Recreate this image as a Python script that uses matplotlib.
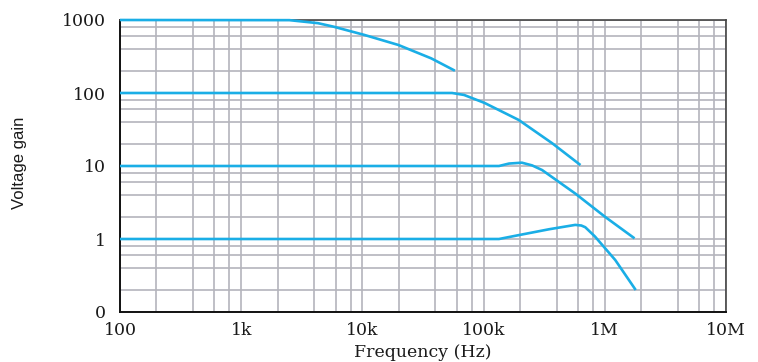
import matplotlib
matplotlib.use("Agg")
import matplotlib.pyplot as plt
from matplotlib.ticker import FixedLocator, NullFormatter

# gain curves (frequency in Hz, voltage gain)
f_1000 = [100, 2500, 4300, 5800, 10400, 19800, 37000, 58000]
g_1000 = [1000, 995, 905, 809, 624, 455, 298, 202]

f_100 = [100, 55000, 69000, 102000, 195000, 368000, 630000]
g_100 = [100, 100, 94, 73, 42.7, 20.5, 10.3]

f_10 = [100, 134000, 162000, 207000, 251000, 304000, 570000, 1010000, 1760000]
g_10 = [10, 10, 10.8, 11.1, 10.2, 8.8, 4.2, 2.0, 1.02]

f_1 = [100, 134000, 195000, 347000, 570000, 640000, 690000, 830000, 1220000, 1800000]
g_1 = [1, 1, 1.13, 1.36, 1.56, 1.53, 1.45, 1.08, 0.515, 0.2]

x_ticks = [1e2, 1e3, 1e4, 1e5, 1e6, 1e7]
x_labels = ["100", "1k", "10k", "100k", "1M", "10M"]
y_ticks = [0.1, 1, 10, 100, 1000]
y_labels = ["0", "1", "10", "100", "1000"]

line_col = "#1aaee6"
grid_col = "#b4b4bc"

fig = plt.figure(figsize=(7.58, 3.62), dpi=100)
ax = fig.add_axes([120 / 758, 1 - 312 / 362, 606 / 758, 292 / 362])

ax.set_xscale("log")
ax.set_yscale("log")
ax.set_xlim(1e2, 1e7)
ax.set_ylim(0.1, 1000)

minor_x = [m * 10 ** d for d in range(2, 7) for m in (2, 4, 6, 8)]
minor_y = [m * 10 ** d for d in range(-1, 3) for m in (2, 4, 6, 8)]
ax.xaxis.set_major_locator(FixedLocator(x_ticks))
ax.xaxis.set_minor_locator(FixedLocator(minor_x))
ax.yaxis.set_major_locator(FixedLocator(y_ticks))
ax.yaxis.set_minor_locator(FixedLocator(minor_y))
ax.xaxis.set_minor_formatter(NullFormatter())
ax.yaxis.set_minor_formatter(NullFormatter())
ax.set_xticklabels(x_labels)
ax.set_yticklabels(y_labels)

ax.grid(True, which="both", color=grid_col, linewidth=1.2)
ax.set_axisbelow(True)
ax.tick_params(which="both", length=0)
ax.tick_params(axis="x", pad=7)
ax.tick_params(axis="y", pad=10)
for lab in ax.get_xticklabels() + ax.get_yticklabels():
    lab.set_family("DejaVu Serif")
    lab.set_fontsize(12.5)
    lab.set_color("#1a1a1a")

for s in ["left", "bottom"]:
    ax.spines[s].set_color("#111111")
    ax.spines[s].set_linewidth(1.4)
for s in ["top", "right"]:
    ax.spines[s].set_color("#444444")
    ax.spines[s].set_linewidth(1.2)

for f, g in [(f_1000, g_1000), (f_100, g_100), (f_10, g_10), (f_1, g_1)]:
    ax.plot(f, g, color=line_col, linewidth=1.9, solid_capstyle="butt", clip_on=False, zorder=3)

ax.set_xlabel("Frequency (Hz)", family="DejaVu Serif", fontsize=12.5, color="#1a1a1a", labelpad=4)
fig.text(20 / 758, 1 - 163 / 362, "Voltage gain", rotation=90, ha="center", va="center",
         family=["Liberation Sans Narrow", "Liberation Sans"], fontsize=12, color="#1a1a1a")

fig.savefig("out.png", dpi=100)
